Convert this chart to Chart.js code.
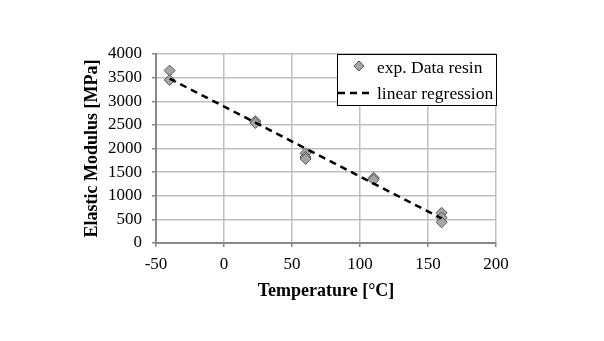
<!DOCTYPE html>
<html><head><meta charset="utf-8">
<script src="https://cdn.jsdelivr.net/npm/chart.js@4.4.0/dist/chart.umd.min.js"></script>
<style>html,body{margin:0;padding:0;background:#fff;}#wrap{width:604px;height:341px;}</style>
</head><body><div id="wrap"><canvas id="c" width="604" height="341"></canvas></div>
<script>
const tempX = [-40, -40, 23, 23, 60, 60, 60, 110, 110, 160, 160, 160];
const modulusY = [3650, 3450, 2580, 2540, 1900, 1820, 1780, 1380, 1340, 640, 540, 440];
const regressionX = [-40, 160];
const regressionY = [3480, 520];
const seriesLabels = ['exp. Data resin', 'linear regression'];
const xTitle = 'Temperature [°C]';
const yTitle = 'Elastic Modulus [MPa]';

const serif = '"Liberation Serif", "Times New Roman", serif';

const legendPlugin = {
  id: 'boxLegend',
  afterDraw(chart) {
    const ctx = chart.ctx;
    const a = chart.chartArea;
    const x0 = 337, y0 = 54, w = a.right - 337 + 1, h = 52;
    ctx.save();
    ctx.fillStyle = '#fff';
    ctx.fillRect(x0, y0, w, h);
    ctx.strokeStyle = '#000';
    ctx.lineWidth = 1;
    ctx.strokeRect(x0 + 0.5, y0 + 0.5, w - 1, h - 1);
    const mx = 359, my1 = 66, my2 = 93;
    ctx.beginPath();
    ctx.moveTo(mx, my1 - 5); ctx.lineTo(mx + 5, my1); ctx.lineTo(mx, my1 + 5); ctx.lineTo(mx - 5, my1); ctx.closePath();
    ctx.fillStyle = '#a6a6a6'; ctx.fill();
    ctx.strokeStyle = '#595959'; ctx.lineWidth = 1; ctx.stroke();
    ctx.beginPath();
    ctx.setLineDash([7, 5]);
    ctx.strokeStyle = '#000'; ctx.lineWidth = 2.5;
    ctx.moveTo(338, my2); ctx.lineTo(370, my2); ctx.stroke();
    ctx.setLineDash([]);
    ctx.fillStyle = '#000';
    ctx.font = '17.5px ' + serif;
    ctx.textBaseline = 'middle';
    ctx.fillText(seriesLabels[0], 377, 68);
    ctx.fillText(seriesLabels[1], 377, 94);
    ctx.restore();
  }
};

new Chart(document.getElementById('c'), {
  type: 'scatter',
  data: {
    datasets: [
      {
        label: seriesLabels[1],
        type: 'line',
        data: regressionX.map((x, i) => ({x, y: regressionY[i]})),
        borderColor: '#000',
        borderWidth: 2.5,
        borderDash: [7, 5],
        pointRadius: 0,
        fill: false,
        order: 1
      },
      {
        label: seriesLabels[0],
        data: tempX.map((x, i) => ({x, y: modulusY[i]})),
        pointStyle: 'rectRot',
        pointRadius: 5.5,
        backgroundColor: '#a6a6a6',
        borderColor: '#595959',
        borderWidth: 1,
        order: 2
      }
    ]
  },
  options: {
    responsive: false,
    animation: false,
    layout: { padding: { left: 82, right: 108, top: 54, bottom: 39 } },
    plugins: { legend: { display: false }, tooltip: { enabled: false } },
    scales: {
      x: {
        type: 'linear', min: -50, max: 200,
        afterFit(s) { s.height = 59; },
        ticks: { stepSize: 50, color: '#000', font: { family: serif, size: 17 }, padding: 7, callback: v => String(v) },
        grid: { color: '#bfbfbf', lineWidth: 1.5, tickLength: 4, tickColor: '#888' },
        border: { color: '#888', width: 2 },
        title: { display: true, text: xTitle, color: '#000', font: { family: serif, size: 18, weight: 'bold' }, padding: 0 }
      },
      y: {
        min: 0, max: 4000,
        afterFit(s) { s.width = 74; },
        ticks: { stepSize: 500, color: '#000', font: { family: serif, size: 17 }, padding: 10, callback: v => String(v) },
        grid: { color: '#bfbfbf', lineWidth: 1.5, tickLength: 4, tickColor: '#888' },
        border: { color: '#888', width: 2 },
        title: { display: true, text: yTitle, color: '#000', font: { family: serif, size: 18, weight: 'bold' }, padding: 0 }
      }
    }
  },
  plugins: [legendPlugin]
});
</script></body></html>
